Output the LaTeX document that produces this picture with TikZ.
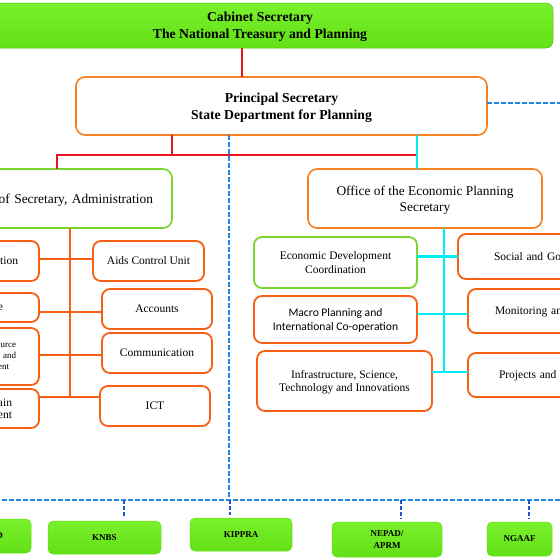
\documentclass[tikz,border=0pt]{standalone}
\usepackage{fontspec}
\setmainfont{Liberation Serif}
\newfontfamily\calibrifont{Carlito}
\usetikzlibrary{positioning,calc}

\definecolor{cabgreen}{RGB}{98,224,22}
\definecolor{cabgreenlt}{RGB}{122,240,44}
\definecolor{boxgreen}{RGB}{122,214,44}
\definecolor{psorange}{RGB}{248,128,32}
\definecolor{unitorange}{RGB}{246,96,22}
\definecolor{linered}{RGB}{232,22,28}
\definecolor{linecyan}{RGB}{0,238,240}
\definecolor{lineblue}{RGB}{30,136,229}
\definecolor{dropblue}{RGB}{32,84,206}

\begin{document}
\begin{tikzpicture}[
    x=1pt, y=-1pt,
    every node/.style={inner sep=0pt, outer sep=0pt, text=black},
    topbox/.style={draw=cabgreen!85!black, line width=0.5pt, rounded corners=7pt, top color=cabgreenlt, bottom color=cabgreen, align=center, text depth=-4pt, font=\fontsize{13.7}{17}\selectfont\bfseries},
    psbox/.style={draw=psorange, line width=1.6pt, fill=white, rounded corners=9pt, align=center, text depth=-4pt, font=\fontsize{13.7}{17}\selectfont\bfseries},
    officebox/.style={draw=#1, line width=1.6pt, fill=white, rounded corners=9pt, align=center, text depth=-4pt, font=\fontsize{13.4}{16}\selectfont},
    unitbox/.style={draw=#1, line width=1.8pt, fill=white, rounded corners=8pt, align=center, text depth=-1pt, font=\fontsize{11.5}{13.5}\selectfont},
    agency/.style={draw=cabgreen, line width=0.5pt, rounded corners=5pt, top color=cabgreenlt, bottom color=cabgreen, align=center, font=\fontsize{9}{12}\selectfont\bfseries},
    redline/.style={linered, line width=2.2pt},
    cyanline/.style={linecyan, line width=2.8pt},
    treeline/.style={unitorange, line width=2.4pt},
    busline/.style={lineblue, line width=2pt, dash pattern=on 5pt off 2pt},
    dropline/.style={dropblue, line width=2pt, dash pattern=on 4pt off 2pt}
]
    \useasboundingbox (0,0) rectangle (560,560);
    \clip (0,0) rectangle (560,560);

    % top of the chart
    \node[topbox, minimum width=586, minimum height=45] (cab) at (260,25.5) {Cabinet Secretary\\The National Treasury and Planning};
    \node[psbox, minimum width=411, minimum height=58] (ps) at (281.5,106) {Principal Secretary\\State Department for Planning};

    % the two offices
    \node[officebox=boxgreen, anchor=east, minimum height=59, text width=200, align=right, inner xsep=19] (aso) at (172,198.5) {of Secretary, Administration};
    \node[officebox=psorange, minimum width=234, minimum height=59] (eso) at (425,198.5) {Office of the Economic Planning\\Secretary};

    % administration units
    \node[unitbox=unitorange, anchor=east, minimum height=40, text width=60, align=right, inner xsep=21] (adm1) at (39,261) {tion};
    \node[unitbox=unitorange, anchor=east, minimum height=29, text width=60, align=right, inner xsep=36] (adm2) at (39,307.5) {e};
    \node[unitbox=unitorange, anchor=east, minimum height=57, text width=60, align=right, inner xsep=23, text depth={}, font=\fontsize{9}{11}\selectfont] (adm3) at (39,356.5) {urce\\and\\ent\hspace*{7pt}};
    \node[unitbox=unitorange, anchor=east, minimum height=39, text width=60, align=right, inner xsep=27, text depth={}, font=\fontsize{11.5}{12.5}\selectfont] (adm4) at (39,408.5) {ain\\ent};
    \node[unitbox=unitorange, minimum width=111, minimum height=40] (aids) at (148.5,261) {Aids Control Unit};
    \node[unitbox=unitorange, minimum width=110, minimum height=40] (acc) at (157,309) {Accounts};
    \node[unitbox=unitorange, minimum width=110, minimum height=40] (com) at (157,353) {Communication};
    \node[unitbox=unitorange, minimum width=110, minimum height=40] (ict) at (155,406) {ICT};

    % economic planning units
    \node[unitbox=boxgreen, minimum width=163, minimum height=51] (edc) at (335.5,262.5) {Economic Development\\Coordination};
    \node[unitbox=unitorange, minimum width=163, minimum height=47, font=\fontsize{11.6}{14}\selectfont\calibrifont] (mac) at (335.5,319.5) {Macro Planning and\\International Co-operation};
    \node[unitbox=unitorange, minimum width=175, minimum height=60] (inf) at (344.5,381) {Infrastructure, Science,\\Technology and Innovations};
    \node[unitbox=unitorange, anchor=west, minimum height=45, text width=120, align=left, inner xsep=36] (soc) at (458,256.5) {Social and Gov};
    \node[unitbox=unitorange, anchor=west, minimum height=44, text width=120, align=left, inner xsep=27] (mon) at (468,311) {Monitoring and};
    \node[unitbox=unitorange, anchor=west, minimum height=44, text width=120, align=left, inner xsep=31] (prj) at (468,375) {Projects and I};

    % agencies
    \node[agency, anchor=east, minimum height=34, text width=60, align=right, inner xsep=28] (agd) at (31,536) {D};
    \node[agency, minimum width=113, minimum height=33] (knbs) at (104.5,537.5) {KNBS};
    \node[agency, minimum width=102, minimum height=33] (kip) at (241,534.5) {KIPPRA};
    \node[agency, minimum width=110, minimum height=35] (nep) at (387,539.5) {NEPAD/\\APRM};
    \node[agency, minimum width=65, minimum height=34] (nga) at (519.5,539) {NGAAF};

    % junctions
    \coordinate (cabdrop) at (242,0);
    \coordinate (psred) at (172,155);
    \coordinate (redl) at (57,155);
    \coordinate (redr) at (417,155);
    \coordinate (aspine) at (70,397);
    \coordinate (espine) at (444,372);
    \coordinate (psright) at (565,103);
    \coordinate (busjoin) at (229,500);
    \coordinate (busl) at (-5,500);
    \coordinate (busr) at (565,500);

    % solid lines
    \draw[redline] (cab.south -| cabdrop) -- (ps.north -| cabdrop);
    \draw[redline] (ps.south -| psred) -- (psred);
    \draw[redline] (aso.north -| redl) -- (redl) -- (redr);
    \draw[cyanline] (ps.south -| redr) -- (eso.north -| redr);

    \draw[treeline] (aso.south -| aspine) -- (aspine);
    \draw[treeline] ([yshift=2pt]adm1.east |- aids.west) -- ([yshift=2pt]aids.west);
    \draw[treeline] ([yshift=-3pt]adm2.east |- acc.west) -- ([yshift=-3pt]acc.west);
    \draw[treeline] ([yshift=-2pt]adm3.east |- com.west) -- ([yshift=-2pt]com.west);
    \draw[treeline] (adm4.east |- aspine) -- (ict.west |- aspine);

    \draw[cyanline] (eso.south -| espine) -- (espine);
    \draw[cyanline] (edc.east |- soc.west) -- (soc.west);
    \draw[cyanline] ([yshift=-3pt]mac.east |- mon.west) -- ([yshift=-3pt]mon.west);
    \draw[cyanline] (inf.east |- espine) -- (prj.west |- espine);

    % dashed links to the agencies
    \draw[busline] (ps.east |- psright) -- (psright);
    \draw[busline] (ps.south -| busjoin) -- (busjoin);
    \draw[busline] (busl) -- (busr);
    \foreach \ag/\xx in {knbs/124, kip/230, nep/401, nga/529} {
        \coordinate (d\ag) at (\xx,500);
        \draw[dropline, shorten >=3pt] (d\ag) -- (d\ag |- \ag.north);
    }
\end{tikzpicture}
\end{document}
